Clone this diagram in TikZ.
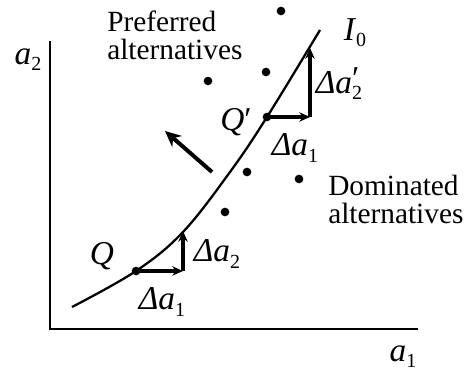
\documentclass[tikz,border=0pt]{standalone}
\usepackage{fontspec}
\setmainfont{Liberation Serif}
\usetikzlibrary{arrows.meta, positioning}
\newcommand{\lo}[1]{\raisebox{-0.4ex}{\fontsize{15}{15}\selectfont #1}}
\newcommand{\dela}{\textit{Δa}}
\tikzset{
    axisline/.style={line width=1.1pt},
    curve/.style={line width=1.7pt},
    arrow/.style={-{Stealth[length=8pt, width=7pt]}, line width=2.3pt},
    bigarrow/.style={-{Stealth[length=12pt, width=11pt]}, line width=3pt},
    dot/.style={circle, fill=black, inner sep=0pt, minimum size=6.5pt},
    txt/.style={font=\fontsize{22}{21}\selectfont, align=left, inner sep=0pt},
    sym/.style={font=\fontsize{25}{25}\selectfont, inner sep=0pt}
}

\begin{document}
\begin{tikzpicture}[x=0.75pt, y=-0.75pt]
    \useasboundingbox (0,0) rectangle (472,373);

    % Axes
    \coordinate (O) at (50,329);
    \coordinate (ytop) at (50,41);
    \coordinate (xend) at (418,329);
    \draw[axisline] (ytop) -- (O) -- (xend);
    \node[sym] (a2) at (28,60) {\textit{a}\lo{2}};
    \node[sym] (a1) at (403,357) {\textit{a}\lo{1}};

    % Indifference curve
    \draw[curve] plot[smooth, tension=0.6] coordinates {(72,307) (136,271) (183,232) (230,172) (267,117) (320,30)};
    \node[sym] (I0) at (355,33) {\textit{I}\lo{0}};

    % Points on the curve
    \node[dot] (Q) at (136,271) {};
    \node[dot] (Qp) at (267,117) {};
    \coordinate (Qx) at (183,271);
    \coordinate (Qy) at (183,231);
    \coordinate (Qpx) at (310,117);
    \coordinate (Qpy) at (310,48);

    % Trade-off arrows
    \draw[arrow] (Q.center) -- (Qx);
    \draw[arrow] (Qx) -- (Qy);
    \draw[arrow] (Qp.center) -- (Qpx);
    \draw[arrow] (Qpx) -- (Qpy);
    \node[sym] (lQ) at (102,256) {\textit{Q}};
    \node[sym] (lQp) at (236,122) {\textit{Q}′};
    \node[sym] (da1) at (162,302) {\dela\lo{1}};
    \node[sym] (da2) at (217,254) {\dela\lo{2}};
    \node[sym] (da1p) at (295,148) {\dela\lo{1}};
    \node[sym] (da2p) at (339,84) {\dela\rlap{\raisebox{0.25ex}{′}}\lo{2}};

    % Alternatives
    \node[dot] (p1) at (281,11) {};
    \node[dot] (p2) at (208,81) {};
    \node[dot] (p3) at (266,72) {};
    \node[dot] (d1) at (247,172) {};
    \node[dot] (d2) at (299,179) {};
    \node[dot] (d3) at (225,212) {};
    \node[txt, anchor=west] (pref) at (107,35) {Preferred\\alternatives};
    \node[txt, anchor=west] (dom) at (328,199) {Dominated\\alternatives};

    % Direction of preference
    \coordinate (tail) at (212,172);
    \coordinate (head) at (165,131);
    \draw[bigarrow] (tail) -- (head);
\end{tikzpicture}
\end{document}
